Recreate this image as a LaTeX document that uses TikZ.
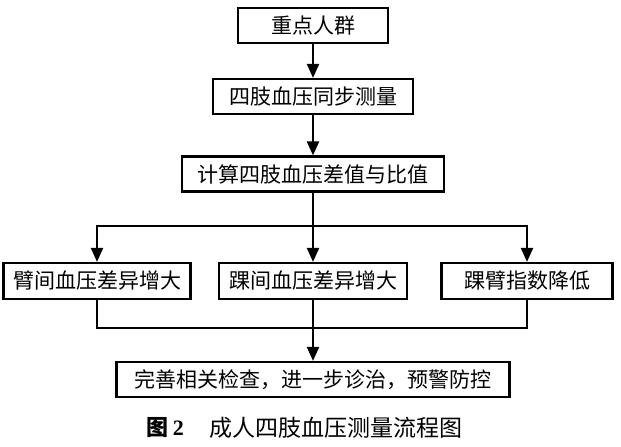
\documentclass[tikz,border=0pt]{standalone}
\usepackage{fontspec}
\setmainfont{Liberation Serif}
\newfontfamily\cjk{Noto Sans CJK SC}
\usetikzlibrary{arrows.meta}
\tikzset{
  box/.style={draw, line width=2.2pt, minimum height=35pt, inner sep=0pt,
    font=\cjk\fontsize{21}{21}\selectfont},
  arr/.style={-{Triangle[width=12pt,length=14pt]}, line width=2.2pt},
  ln/.style={line width=2.2pt}
}
\begin{document}
\begin{tikzpicture}[x=1pt,y=-1pt]
\useasboundingbox[fill=white] (0,0) rectangle (621,447);
\node[box, minimum width=150pt] (n1) at (313,25.5) {重点人群};
\node[box, minimum width=200pt] (n2) at (313,96.5) {四肢血压同步测量};
\node[box, minimum width=262pt] (n3) at (313,174) {计算四肢血压差值与比值};
\node[box, minimum width=187pt, minimum height=36pt] (a) at (97,281) {臂间血压差异增大};
\node[box, minimum width=188pt, minimum height=36pt] (b) at (313,281) {踝间血压差异增大};
\node[box, minimum width=171pt, minimum height=36pt] (c) at (527,281) {踝臂指数降低};
\node[box, minimum width=393pt] (d) at (313,379.5) {完善相关检查，进一步诊治，预警防控};
\coordinate (j1) at (313,226);
\coordinate (j2) at (313,328);
\draw[arr] (n1) -- (n2);
\draw[arr] (n2) -- (n3);
\draw[arr] (n3) -- (b);
\draw[arr] (j1) -| (a.north);
\draw[arr] (j1) -| (c.north);
\draw[ln] (a.south) |- (j2);
\draw[ln] (c.south) |- (j2);
\draw[arr] (b.south) -- (d.north);
\node[anchor=east, inner sep=0pt, font=\fontsize{22}{22}\selectfont] (capa) at (184,428) {{\cjk\bfseries 图}\hspace{4pt}\bfseries 2};
\node[anchor=west, inner sep=0pt, font=\cjk\fontsize{23}{23}\selectfont] (capb) at (209,428) {成人四肢血压测量流程图};
\end{tikzpicture}
\end{document}
